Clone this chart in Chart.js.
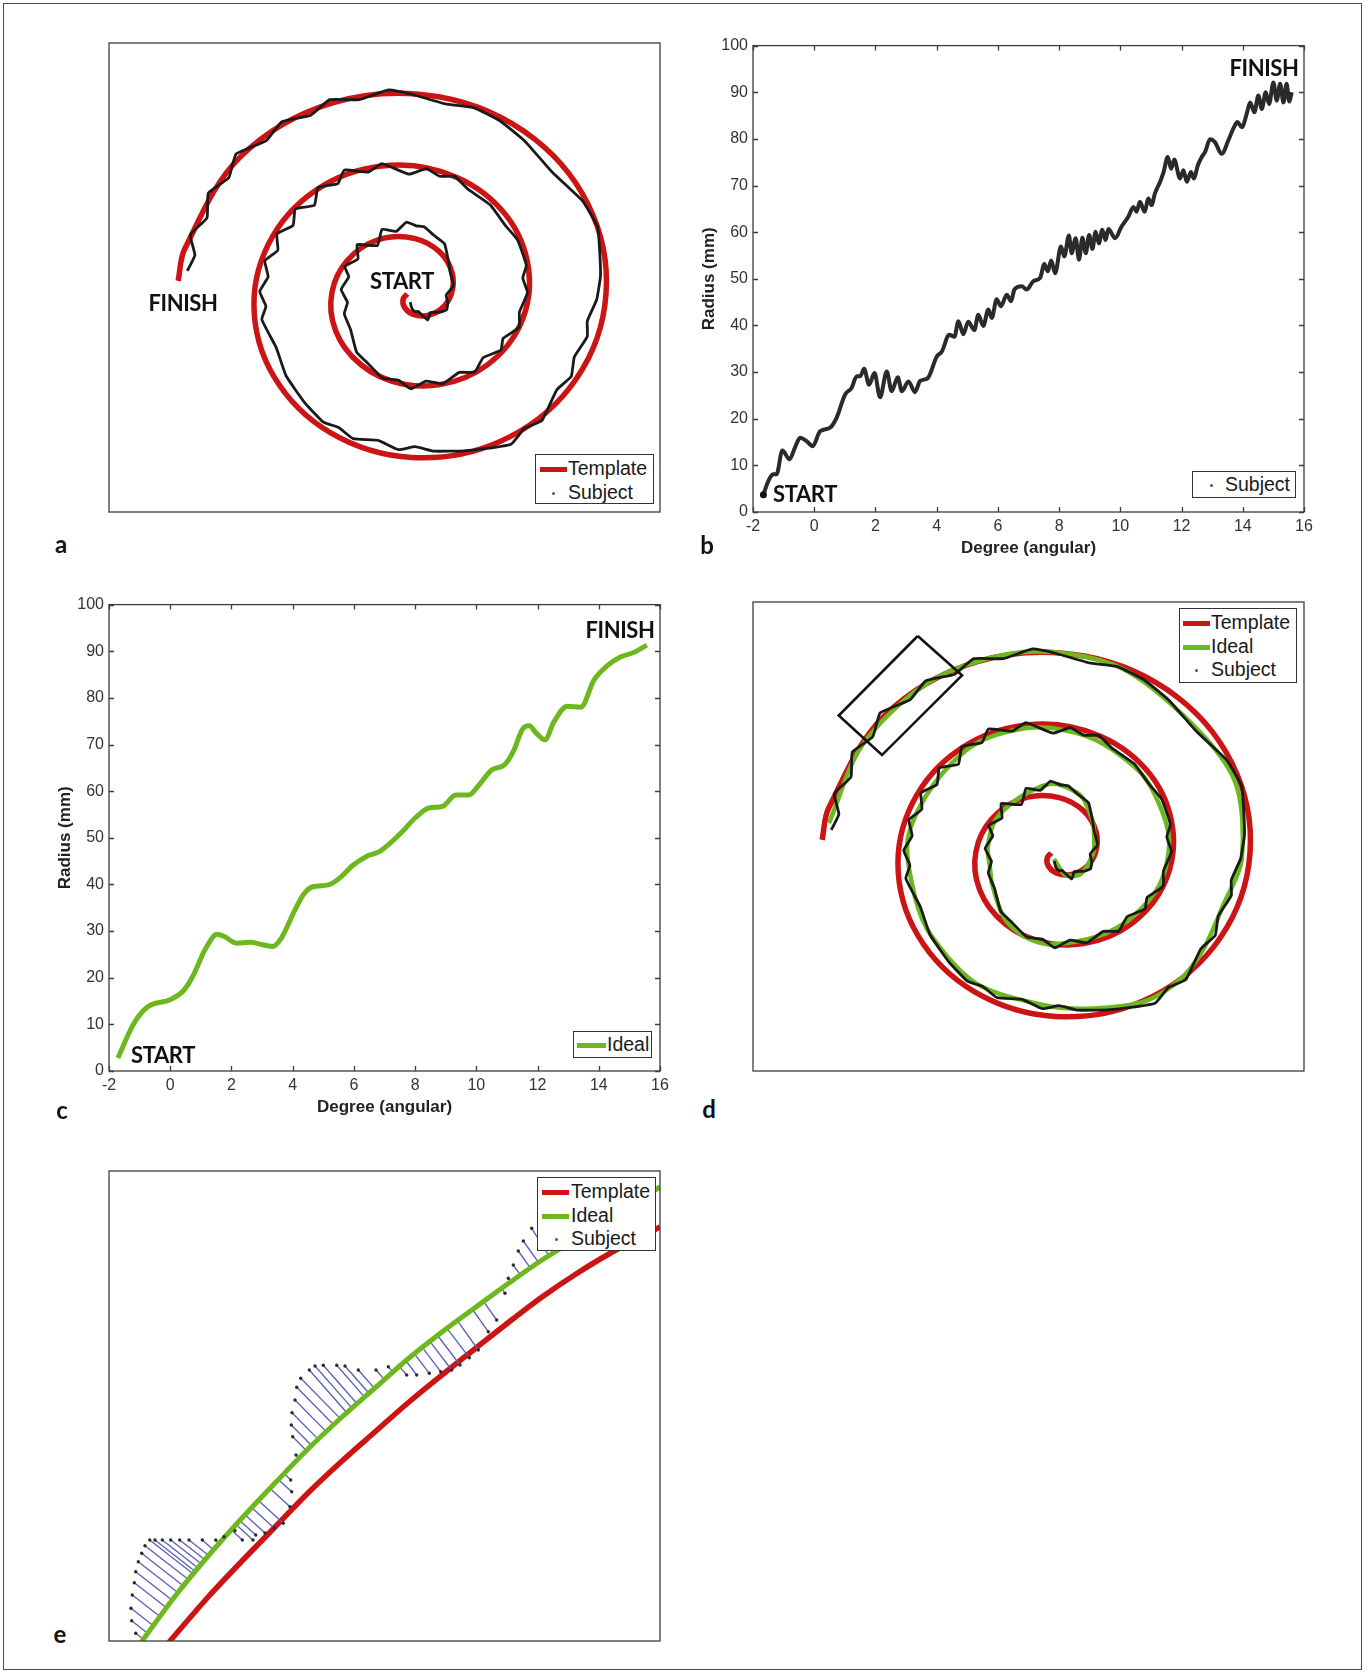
<!DOCTYPE html>
<html>
<head>
<meta charset="utf-8">
<title>Spiral drawing analysis</title>
<script src="https://cdn.jsdelivr.net/npm/chart.js@4.4.1/dist/chart.umd.min.js"></script>
<style>
  body { margin: 0; background: #fff; }
  #fig { position: relative; width: 1370px; height: 1673px; overflow: hidden; }
  #border { position: absolute; left: 3px; top: 3px; width: 1357px; height: 1665px; border: 1.5px solid #4a4a4a; }
  canvas { position: absolute; }
  .tag { position: absolute; font-family: Lato, 'Open Sans', sans-serif; font-weight: 700; color: #111; line-height: 1; white-space: nowrap; transform: translate(-50%, -50%); }
  .note { font-size: 22px; letter-spacing: -0.4px; }
  .letter { font-size: 24px; }
  .leg { position: absolute; background: #fff; border: 1px solid #333; box-sizing: border-box; font-family: 'Liberation Sans', Arial, sans-serif; font-size: 19.5px; color: #1a1a1a; }
  .leg span { position: absolute; line-height: 1; white-space: nowrap; transform: translateY(-50%); }
  .leg i { position: absolute; display: block; }
</style>
</head>
<body>
<div id="fig">
  <div id="border"></div>
  <canvas id="panelA" width="567" height="485" style="left:101px;top:35px"></canvas>
  <canvas id="panelB" width="636" height="529" style="left:693px;top:31px"></canvas>
  <canvas id="panelC" width="636" height="529" style="left:49px;top:590px"></canvas>
  <canvas id="panelD" width="567" height="485" style="left:745px;top:594px"></canvas>
  <canvas id="panelE" width="567" height="486" style="left:101px;top:1163px"></canvas>

  <div class="tag note" style="left:402px;top:281px">START</div>
  <div class="tag note" style="left:183px;top:303px">FINISH</div>
  <div class="tag note" style="left:805px;top:494px">START</div>
  <div class="tag note" style="left:1264px;top:68px">FINISH</div>
  <div class="tag note" style="left:163px;top:1055px">START</div>
  <div class="tag note" style="left:620px;top:630px">FINISH</div>

  <div class="tag letter" style="left:61px;top:544px">a</div>
  <div class="tag letter" style="left:707px;top:545px">b</div>
  <div class="tag letter" style="left:62px;top:1110px">c</div>
  <div class="tag letter" style="left:709px;top:1109px">d</div>
  <div class="tag letter" style="left:60px;top:1634px">e</div>
</div>

<script>
const FONT = "'Liberation Sans', Arial, sans-serif";
const RED = '#cc1414';
const GREEN = '#6cb81e';
const INK = '#1a1a1a';
const BLUE = '#5c5cb8';

// tick labels for panels b and c
const degreeTicks = [-2, 0, 2, 4, 6, 8, 10, 12, 14, 16];
const radiusTicks = [0, 10, 20, 30, 40, 50, 60, 70, 80, 90, 100];

// subject trace: radius (mm) against angle
const subjectAngle = [
  -1.66, -1.52, -1.44, -1.34, -1.23, -1.04, -0.81, -0.63, -0.46, -0.25,
  -0.05, 0.19, 0.52, 0.73, 1.01, 1.22, 1.39, 1.50, 1.63, 1.79,
  1.97, 2.15, 2.37, 2.53, 2.73, 2.86, 3.08, 3.29, 3.46, 3.71,
  4.00, 4.17, 4.41, 4.58, 4.71, 4.87, 5.03, 5.23, 5.36, 5.52,
  5.69, 5.80, 5.96, 6.10, 6.29, 6.43, 6.54, 6.78, 6.94, 7.16,
  7.38, 7.52, 7.63, 7.74, 7.87, 8.06, 8.17, 8.32, 8.41, 8.54,
  8.65, 8.76, 8.87, 8.98, 9.09, 9.19, 9.30, 9.41, 9.52, 9.61,
  9.83, 10.04, 10.26, 10.43, 10.53, 10.64, 10.79, 10.92, 11.02, 11.13,
  11.30, 11.41, 11.55, 11.66, 11.76, 11.95, 12.06, 12.17, 12.31, 12.40,
  12.53, 12.66, 12.77, 12.93, 13.09, 13.31, 13.53, 13.69, 13.83, 13.97,
  14.13, 14.24, 14.38, 14.51, 14.62, 14.75, 14.86, 15.00, 15.11, 15.22,
  15.33, 15.43, 15.52, 15.60
];
const subjectRadius = [
  3.7, 6.3, 7.4, 8.1, 8.1, 13.2, 11.3, 13.8, 15.9, 15.2,
  14.1, 17.3, 18.1, 20.2, 25.2, 26.6, 29.1, 29.1, 30.7, 27.3,
  29.8, 24.6, 30.1, 25.9, 28.9, 25.9, 28.0, 25.7, 28.1, 28.7,
  33.3, 34.4, 38.0, 37.6, 40.9, 38.1, 40.8, 39.0, 42.3, 39.9,
  43.4, 41.6, 45.6, 44.1, 46.6, 45.2, 47.7, 48.4, 47.7, 49.5,
  50.2, 53.2, 51.6, 53.9, 51.2, 56.9, 54.8, 59.3, 55.5, 58.7,
  54.1, 58.8, 55.5, 59.4, 56.4, 60.1, 57.6, 60.5, 58.3, 60.7,
  58.7, 61.2, 63.3, 65.4, 64.4, 66.5, 64.4, 67.2, 65.8, 68.3,
  70.8, 72.8, 76.1, 73.6, 75.6, 71.5, 73.3, 70.8, 72.9, 71.5,
  74.3, 76.1, 77.2, 79.9, 79.3, 76.8, 79.7, 82.2, 83.6, 82.5,
  85.4, 87.8, 85.7, 89.3, 86.4, 90.0, 87.5, 92.1, 88.2, 91.8,
  87.8, 91.8, 88.0, 90.0
];

// ideal trace: radius (mm) against angle
const idealAngle = [
  -1.71, -1.17, -0.73, 0.00, 0.43, 0.73, 1.16, 1.53, 1.75, 2.18,
  2.62, 3.06, 3.35, 3.64, 4.08, 4.37, 4.66, 5.17, 5.54, 5.97,
  6.41, 6.85, 7.14, 7.58, 8.01, 8.45, 8.89, 9.33, 9.76, 10.06,
  10.49, 10.93, 11.22, 11.51, 11.73, 11.95, 12.24, 12.53, 12.97, 13.41,
  13.85, 14.28, 14.72, 15.16, 15.57
];
const idealRadius = [
  2.8, 10.4, 13.8, 15.3, 17.2, 20.2, 26.3, 29.3, 28.9, 27.4,
  27.6, 27.0, 26.7, 28.6, 34.6, 38.0, 39.5, 39.9, 41.4, 44.1,
  46.0, 47.1, 48.6, 51.3, 54.3, 56.4, 56.7, 59.2, 59.2, 61.1,
  64.5, 65.7, 68.7, 73.3, 74.0, 72.5, 71.0, 74.8, 78.2, 78.0,
  83.9, 86.9, 88.8, 89.8, 91.3
];

const templateAngle = [
  -3.0, -2.5, -2.0, -1.5, -1.0, -0.5, 0.0, 0.5, 1.0, 1.5,
  2.0, 2.5, 3.0, 3.5, 4.0, 4.5, 5.0, 5.5, 6.0, 6.5,
  7.0, 7.5, 8.0, 8.5, 9.0, 9.5, 10.0, 10.5, 11.0, 11.5,
  12.0, 12.5, 13.0, 13.5, 14.0, 14.5, 15.0, 15.5, 15.65
];
const templateRadius = [
  1.5, 3.9, 6.4, 8.9, 11.3, 13.8, 16.2, 18.7, 21.2, 23.6,
  26.1, 28.5, 31.0, 33.5, 35.9, 38.4, 40.8, 43.3, 45.8, 48.2,
  50.7, 53.1, 55.6, 58.1, 60.5, 63.0, 65.4, 67.9, 70.4, 72.8,
  75.3, 77.7, 80.2, 82.7, 85.1, 87.6, 90.0, 92.5, 93.3
];

// zoom window marked in panel d (mm)
const windowX = [-54.9, -37.2, -69.2, -86.5, -54.9];
const windowY = [92.9, 76.0, 41.8, 58.8, 92.9];

// panel e: zoomed view, local units
const eTemplateX = [5.45, 6.1, 10.0, 13.3, 16.7, 20.0, 23.3, 26.7, 30.0, 33.3, 36.7, 40.0, 43.3, 46.7, 50.0, 55.1, 56.7];
const eTemplateY = [-0.8, 0.0, 4.5, 8.0, 11.5, 14.9, 18.0, 21.0, 23.9, 26.6, 29.3, 31.9, 34.4, 36.7, 38.7, 41.4, 42.2];
const eIdealX = [2.55, 3.3, 6.7, 10.0, 13.3, 16.7, 20.0, 23.3, 26.7, 30.0, 33.3, 36.7, 40.0, 43.3, 46.7, 50.0, 55.1, 56.7];
const eIdealY = [-1.0, 0.0, 4.6, 8.6, 12.3, 15.9, 19.3, 22.4, 25.4, 28.3, 30.9, 33.4, 35.8, 38.1, 40.2, 42.3, 45.4, 46.3];
const eSubjectX = [
  2.67, 2.27, 2.20, 2.33, 2.53, 2.67, 2.93, 3.27, 3.60, 4.07,
  4.60, 5.33, 6.17, 7.07, 8.00, 9.33, 10.67, 11.50, 12.60, 13.33,
  14.40, 14.67, 15.60, 16.50, 17.43, 18.10, 18.27, 18.17, 18.70, 18.37,
  18.23, 18.30, 18.60, 18.77, 19.17, 20.03, 20.60, 21.43, 22.77, 23.60,
  24.93, 26.70, 27.93, 29.77, 30.77, 32.03, 33.17, 34.27, 35.10, 36.03,
  36.93, 37.93, 38.77, 39.60, 39.93, 40.43, 40.93, 41.43, 42.27
];
const eSubjectY = [
  0.77, 2.03, 3.27, 4.60, 5.83, 6.93, 7.93, 8.77, 9.53, 10.10,
  10.10, 10.10, 10.10, 10.10, 10.10, 10.10, 10.10, 10.43, 11.03, 10.10,
  10.10, 10.60, 10.80, 11.30, 11.77, 13.43, 14.93, 16.10, 18.60, 20.43,
  21.60, 22.83, 24.10, 25.37, 26.27, 27.10, 27.50, 27.57, 27.57, 27.50,
  27.10, 27.10, 27.43, 26.60, 26.60, 26.77, 26.93, 27.10, 27.60, 28.33,
  29.10, 30.93, 32.10, 34.77, 36.27, 37.60, 39.00, 40.00, 41.27
];
// where each subject dot meets the ideal curve
const eFootX = [
  3.43, 3.89, 4.47, 5.16, 5.84, 6.42, 7.01, 7.54, 8.04, 8.49,
  8.69, 8.97, 9.29, 9.63, 9.98, 10.45, 11.04, 11.57, 12.40, 12.27,
  12.76, 13.13, 13.66, 14.32, 14.97, 16.11, 16.93, 17.55, 19.07, 19.81,
  20.33, 20.98, 21.77, 22.49, 23.14, 23.79, 24.31, 24.81, 25.56, 26.00,
  26.55, 27.55, 28.40, 29.03, 29.67, 30.55, 31.35, 32.13, 32.90, 33.84,
  34.82, 36.35, 37.46, 39.28, 40.20, 41.16, 42.16, 42.96, 43.99
];
const eFootY = [
  0.17, 0.76, 1.50, 2.39, 3.25, 4.00, 4.75, 5.43, 6.07, 6.65,
  6.91, 7.26, 7.67, 8.10, 8.56, 9.10, 9.77, 10.36, 11.22, 11.07,
  11.61, 12.01, 12.58, 13.30, 14.02, 15.26, 16.16, 16.73, 18.23, 18.97,
  19.47, 20.11, 20.89, 21.60, 22.24, 22.83, 23.29, 23.73, 24.39, 24.77,
  25.26, 26.14, 26.89, 27.44, 28.05, 28.72, 29.33, 29.92, 30.50, 31.22,
  32.07, 33.15, 33.94, 35.23, 35.89, 36.57, 37.27, 37.84, 38.54
];

// helpers
const pairs = (xs, ys) => xs.map((x, i) => ({ x: x, y: ys[i] }));
const polar = (angles, radii) => angles.map((t, i) => ({ x: radii[i] * Math.cos(t), y: radii[i] * Math.sin(t) }));

// box round the plot area, with matlab style inward ticks
const frame = {
  id: 'frame',
  afterDraw(chart, args, opts) {
    const ctx = chart.ctx, a = chart.chartArea;
    ctx.save();
    ctx.strokeStyle = '#3c3c3c';
    ctx.lineWidth = 1.3;
    ctx.strokeRect(a.left, a.top, a.right - a.left, a.bottom - a.top);
    if (opts.ticks) {
      const len = 5;
      ctx.beginPath();
      chart.scales.x.ticks.forEach(t => {
        const p = Math.round(chart.scales.x.getPixelForValue(t.value)) + 0.5;
        ctx.moveTo(p, a.bottom); ctx.lineTo(p, a.bottom - len);
        ctx.moveTo(p, a.top); ctx.lineTo(p, a.top + len);
      });
      chart.scales.y.ticks.forEach(t => {
        const p = Math.round(chart.scales.y.getPixelForValue(t.value)) + 0.5;
        ctx.moveTo(a.left, p); ctx.lineTo(a.left + len, p);
        ctx.moveTo(a.right, p); ctx.lineTo(a.right - len, p);
      });
      ctx.stroke();
    }
    ctx.restore();
  }
};

const base = {
  responsive: false,
  animation: false,
  devicePixelRatio: 1,
  events: [],
  plugins: { legend: { display: false }, tooltip: { enabled: false } }
};

function axisScales() {
  return {
    x: {
      type: 'linear', min: -2, max: 16,
      afterBuildTicks: s => { s.ticks = degreeTicks.map(v => ({ value: v })); },
      afterFit: s => { s.height = 48; },
      grid: { display: false, drawTicks: false },
      border: { display: false },
      ticks: { font: { family: FONT, size: 16 }, color: '#333', padding: 5, maxRotation: 0, autoSkip: false },
      title: { display: true, text: 'Degree (angular)', color: '#222', font: { family: FONT, size: 17, weight: 'bold' }, padding: { top: 0, bottom: 1 } }
    },
    y: {
      type: 'linear', min: 0, max: 100,
      afterBuildTicks: s => { s.ticks = radiusTicks.map(v => ({ value: v })); },
      afterFit: s => { s.width = 60; },
      grid: { display: false, drawTicks: false },
      border: { display: false },
      ticks: { font: { family: FONT, size: 16 }, color: '#333', padding: 5, autoSkip: false },
      title: { display: true, text: 'Radius (mm)', color: '#222', font: { family: FONT, size: 17, weight: 'bold' }, padding: { top: 6, bottom: 0 } }
    }
  };
}

function spiralScales() {
  return {
    x: { type: 'linear', display: false, min: -120.8, max: 99.6 },
    y: { type: 'linear', display: false, min: -93.8, max: 107.5 }
  };
}

// datasets listed top to bottom (first one is drawn last)
const subjectSpiral = {
  data: polar(subjectAngle, subjectRadius), showLine: true, borderColor: INK, borderWidth: 2.8,
  pointRadius: 0, tension: 0.12
};
const idealSpiral = {
  data: polar(idealAngle, idealRadius), showLine: true, borderColor: GREEN, borderWidth: 4.5,
  pointRadius: 0, tension: 0.3
};
const templateSpiral = {
  data: polar(templateAngle, templateRadius), showLine: true, borderColor: RED, borderWidth: 5.5,
  pointRadius: 0, tension: 0.35
};

// a
new Chart(document.getElementById('panelA'), {
  type: 'scatter',
  data: { datasets: [subjectSpiral, templateSpiral] },
  options: Object.assign({}, base, {
    layout: { padding: 8 },
    scales: spiralScales(),
    plugins: Object.assign({}, base.plugins, { frame: { ticks: false } })
  }),
  plugins: [frame]
});

// b
new Chart(document.getElementById('panelB'), {
  type: 'scatter',
  data: { datasets: [{
    data: pairs(subjectAngle, subjectRadius), showLine: true, borderColor: '#2a2a2a', borderWidth: 4,
    cubicInterpolationMode: 'monotone',
    pointRadius: ctx => ctx.dataIndex === 0 ? 3.5 : 0, pointBackgroundColor: '#111', pointBorderWidth: 0
  }] },
  options: Object.assign({}, base, {
    layout: { padding: { left: 0, top: 12, right: 25, bottom: 0 } },
    scales: axisScales(),
    plugins: Object.assign({}, base.plugins, { frame: { ticks: true } })
  }),
  plugins: [frame]
});

// c
new Chart(document.getElementById('panelC'), {
  type: 'scatter',
  data: { datasets: [{
    data: pairs(idealAngle, idealRadius), showLine: true, borderColor: GREEN, borderWidth: 5,
    cubicInterpolationMode: 'monotone', pointRadius: 0
  }] },
  options: Object.assign({}, base, {
    layout: { padding: { left: 0, top: 12, right: 25, bottom: 0 } },
    scales: axisScales(),
    plugins: Object.assign({}, base.plugins, { frame: { ticks: true } })
  }),
  plugins: [frame]
});

// d
new Chart(document.getElementById('panelD'), {
  type: 'scatter',
  data: { datasets: [
    { data: pairs(windowX, windowY), showLine: true, borderColor: '#111', borderWidth: 2.6, pointRadius: 0, tension: 0 },
    Object.assign({}, subjectSpiral),
    Object.assign({}, idealSpiral),
    Object.assign({}, templateSpiral)
  ] },
  options: Object.assign({}, base, {
    layout: { padding: 8 },
    scales: spiralScales(),
    plugins: Object.assign({}, base.plugins, { frame: { ticks: false } })
  }),
  plugins: [frame]
});

// e
const links = [];
eSubjectX.forEach((x, i) => {
  links.push({ x: x, y: eSubjectY[i] }, { x: eFootX[i], y: eFootY[i] });
});
new Chart(document.getElementById('panelE'), {
  type: 'scatter',
  data: { datasets: [
    { data: pairs(eSubjectX, eSubjectY), pointRadius: 1.7, pointBackgroundColor: '#2b2b2b', pointBorderWidth: 0, clip: 0 },
    { data: pairs(eIdealX, eIdealY), showLine: true, borderColor: GREEN, borderWidth: 5, pointRadius: 0, tension: 0.3, clip: 0 },
    { data: links, showLine: true, borderWidth: 1.3, pointRadius: 0, tension: 0, clip: 0,
      segment: { borderColor: ctx => ctx.p0DataIndex % 2 === 0 ? BLUE : 'rgba(0,0,0,0)' } },
    { data: pairs(eTemplateX, eTemplateY), showLine: true, borderColor: RED, borderWidth: 5.5, pointRadius: 0, tension: 0.3, clip: 0 }
  ] },
  options: Object.assign({}, base, {
    layout: { padding: 8 },
    scales: {
      x: { type: 'linear', display: false, min: 0, max: 55.1 },
      y: { type: 'linear', display: false, min: 0, max: 47.0 }
    },
    plugins: Object.assign({}, base.plugins, { frame: { ticks: false } })
  }),
  plugins: [frame]
});

// legends, boxed like matlab's
function legend(left, top, w, h, rows) {
  const box = document.createElement('div');
  box.className = 'leg';
  box.style.cssText = 'left:' + left + 'px;top:' + top + 'px;width:' + w + 'px;height:' + h + 'px';
  rows.forEach(r => {
    const mark = document.createElement('i');
    if (r.line) {
      mark.style.cssText = 'left:' + r.mx + 'px;top:' + (r.y - 2.5) + 'px;width:' + r.mw + 'px;height:5px;background:' + r.line;
    } else {
      mark.style.cssText = 'left:' + (r.mx - 1.5) + 'px;top:' + (r.y - 1.5) + 'px;width:3px;height:3px;border-radius:50%;background:#555';
    }
    box.appendChild(mark);
    const t = document.createElement('span');
    t.textContent = r.text;
    t.style.left = r.tx + 'px';
    t.style.top = r.y + 'px';
    box.appendChild(t);
  });
  document.getElementById('fig').appendChild(box);
}

legend(535, 454, 119, 50, [
  { text: 'Template', line: RED, mx: 4, mw: 27, tx: 32, y: 14 },
  { text: 'Subject', mx: 17, tx: 32, y: 38 }
]);
legend(1192, 471, 104, 27, [
  { text: 'Subject', mx: 18, tx: 32, y: 13 }
]);
legend(573, 1031, 79, 27, [
  { text: 'Ideal', line: GREEN, mx: 3, mw: 29, tx: 33, y: 13 }
]);
legend(1179, 608, 118, 75, [
  { text: 'Template', line: RED, mx: 3, mw: 27, tx: 31, y: 14 },
  { text: 'Ideal', line: GREEN, mx: 3, mw: 27, tx: 31, y: 38 },
  { text: 'Subject', mx: 16, tx: 31, y: 61 }
]);
legend(537, 1177, 119, 74, [
  { text: 'Template', line: RED, mx: 4, mw: 27, tx: 33, y: 14 },
  { text: 'Ideal', line: GREEN, mx: 4, mw: 27, tx: 33, y: 38 },
  { text: 'Subject', mx: 18, tx: 33, y: 61 }
]);
</script>
</body>
</html>
